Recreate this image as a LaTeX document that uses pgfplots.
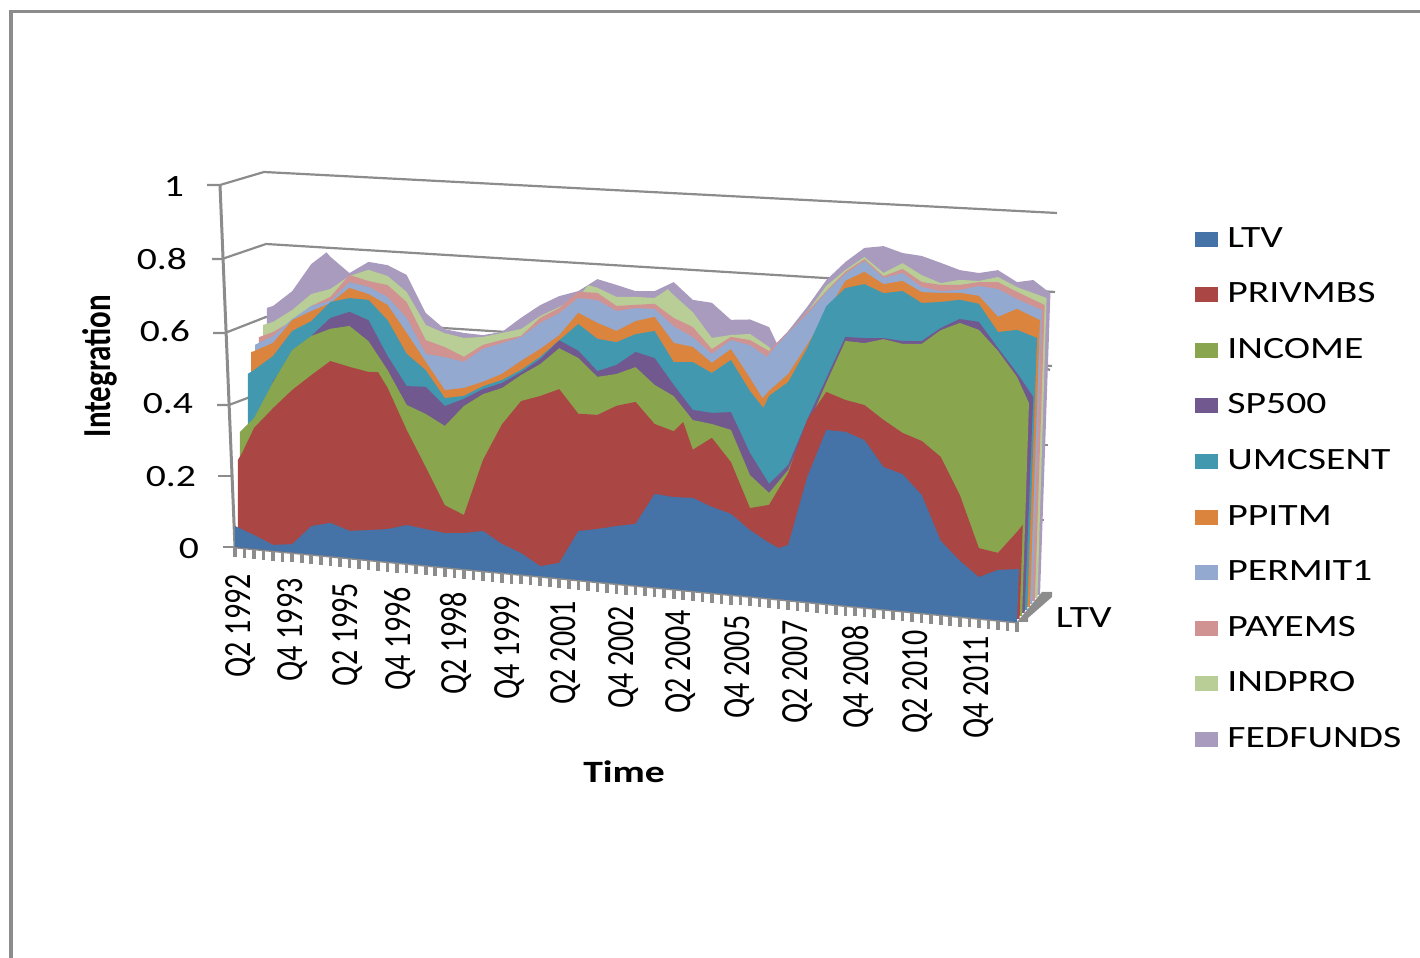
\documentclass[border=0pt]{standalone}
\usepackage{graphicx}
\usepackage{fontspec}
\setmainfont{Carlito}
\usepackage{pgfplots}
\pgfplotsset{compat=1.18}

% the original picture is stretched sideways, so text is widened to match
\newcommand{\hs}[1]{\scalebox{1.28}[1]{#1}}
\newcommand{\vs}[1]{\scalebox{1}[1.28]{#1}}

\definecolor{cLTV}{HTML}{4572A7}
\definecolor{cPRIV}{HTML}{AA4643}
\definecolor{cINC}{HTML}{89A54E}
\definecolor{cSP}{HTML}{71588F}
\definecolor{cUMC}{HTML}{4198AF}
\definecolor{cPPI}{HTML}{DB843D}
\definecolor{cPER}{HTML}{93A9CF}
\definecolor{cPAY}{HTML}{D19392}
\definecolor{cIND}{HTML}{B9CD96}
\definecolor{cFED}{HTML}{A99BBD}
\definecolor{wallgray}{HTML}{8C8C8C}

\begin{document}
\begin{tikzpicture}
\path[use as bounding box] (0pt,0pt) rectangle (710pt,479pt);
\begin{scope}[x=0.5pt,y=-0.5pt,shift={(0pt,479pt)}]
% outer chart frame
\draw[wallgray,line width=1.6pt] (11,958) -- (11,11.5) -- (1420,11.5);
% 3D walls and grid lines behind the areas
\draw[wallgray,line width=1.5pt] (220,185) -- (235,547);
\begin{scope}[wallgray,line width=1.1pt]
\draw (207,185) -- (220,185) -- (264,172) -- (1057,213);
\draw (212,259) -- (222,259) -- (266,244) -- (1055,292);
\draw (213,333) -- (225,333) -- (266,317) -- (1052,366);
\draw (217,405) -- (229,405) -- (266,391);
\draw (218,476) -- (232,476);
\draw (223,547) -- (235,547);
\draw (1044,368) -- (1050,370);
\draw (1042,445) -- (1048,445);
\draw (1038,520) -- (1044,520);
\end{scope}
\fill[wallgray] (1017,622) -- (1042,592) -- (1052,592) -- (1052,597) -- (1028,618) -- (1028,622) -- cycle;
\end{scope}

\begin{axis}[
    at={(117.5pt,205.5pt)},
    anchor=origin,
    x={(4.7685pt,-0.4575pt)},
    y={(0pt,181pt)},
    xmin=0, xmax=82,
    ymin=0, ymax=1,
    clip=false,
    axis x line=bottom,
    axis y line=left,
    axis line style={-},
    x axis line style={wallgray,line width=1.5pt},
    y axis line style={draw=none},
    xtick={0.3,5.7,11.5,17,22.8,28.5,34.4,40.4,46.4,52.6,58.7,65,71.3,77.6},
    xticklabels={\vs{Q2 1992},\vs{Q4 1993},\vs{Q2 1995},\vs{Q4 1996},\vs{Q2 1998},\vs{Q4 1999},\vs{Q2 2001},\vs{Q4 2002},\vs{Q2 2004},\vs{Q4 2005},\vs{Q2 2007},\vs{Q4 2008},\vs{Q2 2010},\vs{Q4 2011}},
    minor xtick={0,1,...,82},
    major x tick style={draw=none},
    minor x tick style={wallgray,line width=1.8pt},
    minor tick length=5pt,
    tick align=outside,
    xticklabel style={xshift=1.5pt,yshift={-(9-0.35*\ticknum)*1pt},rotate=90,anchor=east,inner sep=0pt,
        font=\fontsize{15}{18}\selectfont},
    ytick={0,0.2,0.4,0.6,0.8,1},
    yticklabels={\hs{0},\hs{0.2},\hs{0.4},\hs{0.6},\hs{0.8},\hs{1}},
    ytick style={draw=none},
    yticklabel style={anchor=east,inner sep=0pt,xshift={-(13.5+1.5*\ticknum)*1pt},yshift=-1.2pt,
        font=\fontsize{15.5}{18}\selectfont},
    xlabel={\hs{\bfseries Time}},
    xlabel style={at={(axis cs:40.8,-0.5185)},anchor=center,font=\fontsize{15.5}{18}\selectfont},
    ylabel={\vs{\bfseries Integration}},
    ylabel style={at={(axis cs:-14.2,0.464)},anchor=center,rotate=0,font=\fontsize{15.5}{18}\selectfont},
    reverse legend,
    legend style={at={(axis cs:100.66,1.139)},anchor=north west,draw=none,fill=none,
        inner sep=0pt,row sep=15.8pt,font=\fontsize{15.5}{18}\selectfont,
        nodes={inner sep=0pt,text height=10pt,text depth=2pt}},
    legend cell align=left,
    legend image code/.code={\path[#1,draw=none] (0pt,-3.75pt) rectangle (11.5pt,3.75pt);\path (16pt,0pt);},
]
\addplot[fill=cFED,draw=none] coordinates {(3.35,0)(3.35,.669)(4,.676)(6,.722)(8,.802)(9.6,.838)(10,.827)(12,.787)(14,.823)(16,.819)(18,.797)(20,.697)(22,.657)(24,.652)(26,.651)(28,.665)(30,.709)(32,.749)(34,.779)(36,.798)(38,.836)(40,.825)(42,.813)(44,.818)(46,.848)(48,.804)(50,.801)(52,.759)(54,.765)(56,.749)(56.8,.707)(58,.743)(60,.815)(62,.894)(64,.949)(66,.993)(68,1.003)(70,.989)(72,.986)(74,.972)(76,.957)(78,.954)(80,.967)(82,.939)(83.7,.949)(85.5,.917)(84.41,.081)};
\addplot[fill=cIND,draw=none] coordinates {(2.95,0)(2.95,.621)(4,.632)(6,.670)(8,.719)(10,.738)(12,.779)(14,.801)(16,.789)(18,.750)(20,.664)(22,.646)(24,.638)(26,.646)(28,.662)(30,.678)(32,.719)(34,.749)(36,.779)(37,.817)(38,.812)(40,.792)(42,.797)(44,.799)(45.4,.827)(46,.812)(48,.770)(50,.704)(52,.717)(54,.725)(56,.694)(56.4,.681)(58,.732)(60,.801)(62,.878)(64,.927)(66,.968)(68,.929)(70,.961)(72,.933)(74,.916)(76,.930)(78,.932)(80,.948)(82,.925)(85.1,.903)(84.14,.072)};
\addplot[fill=cPAY,draw=none] coordinates {(2.5,0)(2.5,.586)(4,.604)(6,.640)(8,.686)(10,.716)(12,.782)(14,.770)(16,.764)(18,.722)(20,.622)(22,.608)(24,.586)(26,.624)(28,.643)(30,.659)(32,.714)(34,.746)(36,.796)(38,.798)(40,.767)(42,.775)(44,.783)(46,.749)(48,.729)(50,.673)(52,.712)(54,.708)(56,.683)(58,.740)(60,.801)(62,.864)(64,.922)(66,.962)(68,.920)(70,.945)(72,.914)(74,.911)(76,.916)(78,.929)(80,.934)(82,.912)(84.9,.883)(83.87,.063)};
\addplot[fill=cPER,draw=none] coordinates {(2.1,0)(2.1,.564)(4,.593)(6,.645)(8,.686)(10,.705)(12,.762)(14,.754)(16,.731)(18,.678)(20,.584)(22,.580)(24,.572)(26,.613)(28,.634)(30,.656)(32,.700)(34,.732)(36,.779)(38,.778)(40,.753)(42,.766)(44,.769)(46,.726)(48,.701)(50,.660)(52,.703)(54,.694)(55.8,.666)(56,.675)(58,.738)(60,.795)(62,.861)(64,.916)(66,.957)(68,.915)(70,.934)(72,.900)(74,.894)(76,.902)(78,.918)(80,.915)(82,.892)(84.6,.868)(83.6,.054)};
\addplot[fill=cPPI,draw=none] coordinates {(1.68,0)(1.68,.543)(2,.546)(4,.574)(6,.642)(8,.672)(10,.699)(12,.746)(14,.734)(16,.709)(18,.637)(20,.562)(22,.489)(24,.500)(26,.522)(28,.549)(30,.590)(32,.628)(34,.671)(36,.738)(38,.715)(40,.698)(42,.730)(44,.747)(46,.680)(48,.674)(50,.635)(52,.678)(54,.603)(55.3,.551)(56,.573)(58,.624)(60,.710)(62,.803)(64,.897)(66,.927)(68,.898)(70,.912)(72,.886)(74,.889)(76,.894)(78,.891)(80,.838)(82,.865)(84.4,.840)(83.34,.045)};
\addplot[fill=cUMC,draw=none] coordinates {(1.36,0)(1.36,.482)(2,.494)(4,.538)(6,.612)(8,.644)(10,.702)(12,.718)(14,.718)(16,.667)(18,.579)(20,.539)(22,.467)(24,.478)(26,.510)(28,.532)(30,.565)(32,.606)(34,.657)(36,.707)(38,.671)(40,.667)(42,.694)(44,.708)(46,.627)(48,.632)(50,.607)(52,.648)(54,.567)(55.4,.524)(56,.559)(58,.602)(60,.701)(62,.822)(64,.877)(66,.893)(68,.873)(70,.884)(72,.856)(74,.864)(76,.875)(78,.869)(80,.796)(82,.807)(84.1,.790)(83.07,.036)};
\addplot[fill=cSP,draw=none] coordinates {(2.5,0)(2.5,.350)(4,.469)(6,.546)(8,.603)(10,.658)(12,.680)(14,.662)(16,.568)(18,.490)(20,.493)(22,.445)(24,.470)(26,.502)(28,.524)(30,.559)(32,.600)(34,.657)(36,.633)(38,.582)(40,.604)(42,.645)(44,.633)(46,.564)(48,.500)(50,.497)(52,.504)(54,.396)(56,.316)(58,.373)(60,.503)(62,.623)(64,.742)(66,.744)(68,.749)(70,.746)(72,.751)(74,.792)(76,.822)(78,.819)(80,.752)(82,.688)(83.7,.626)(82.8,.027)};
\addplot[fill=cINC,draw=none] coordinates {(.5,0)(.5,.319)(2,.361)(4,.466)(6,.559)(8,.603)(10,.628)(12,.641)(14,.604)(16,.529)(18,.438)(20,.418)(22,.390)(24,.450)(26,.488)(28,.510)(30,.551)(32,.586)(34,.635)(36,.613)(38,.566)(40,.579)(42,.603)(44,.559)(46,.533)(48,.472)(50,.466)(52,.455)(54,.335)(56,.291)(58,.359)(60,.483)(62,.610)(64,.731)(66,.730)(68,.746)(70,.738)(72,.743)(74,.786)(76,.811)(78,.797)(80,.744)(82,.677)(83.25,.608)(82.53,.018)};
\addplot[fill=cPRIV,draw=none] coordinates {(.3,0)(.3,.241)(.75,.262)(2,.334)(4,.394)(6,.449)(8,.495)(10,.539)(12,.528)(14,.519)(15,.521)(16,.480)(18,.369)(20,.271)(22,.171)(24,.149)(26,.306)(28,.410)(30,.479)(32,.498)(34,.522)(36,.459)(38,.461)(40,.491)(42,.507)(44,.451)(46,.436)(47,.464)(48,.390)(50,.428)(52,.366)(54,.244)(56,.258)(58,.351)(60,.503)(62,.585)(64,.568)(66,.559)(68,.523)(70,.492)(72,.475)(74,.436)(76,.336)(78,.194)(80,.186)(82,.249)(82.6,.270)(82.27,.009)};
\addplot[fill=cLTV,draw=none] coordinates {(0,0)(0,.058)(2,.038)(4,.016)(6,.023)(8,.078)(10,.092)(12,.075)(14,.082)(16,.090)(18,.106)(20,.100)(22,.094)(24,.099)(26,.110)(28,.079)(30,.059)(32,.028)(34,.042)(36,.135)(38,.146)(40,.159)(42,.170)(44,.258)(46,.254)(48,.257)(50,.237)(52,.223)(54,.183)(56,.153)(57,.141)(58,.152)(60,.345)(62,.480)(64,.480)(66,.462)(68,.393)(70,.378)(72,.326)(74,.204)(76,.154)(78,.114)(80,.139)(82,.146)(82.2,.147)(82,0)};
\legend{\hs{FEDFUNDS},\hs{INDPRO},\hs{PAYEMS},\hs{PERMIT1},\hs{PPITM},\hs{UMCSENT},\hs{SP500},\hs{INCOME},\hs{PRIVMBS},\hs{LTV}}
\node[font=\fontsize{15.5}{18}\selectfont] at (axis cs:89,.029) {\hs{LTV}};
\end{axis}
\end{tikzpicture}
\end{document}
